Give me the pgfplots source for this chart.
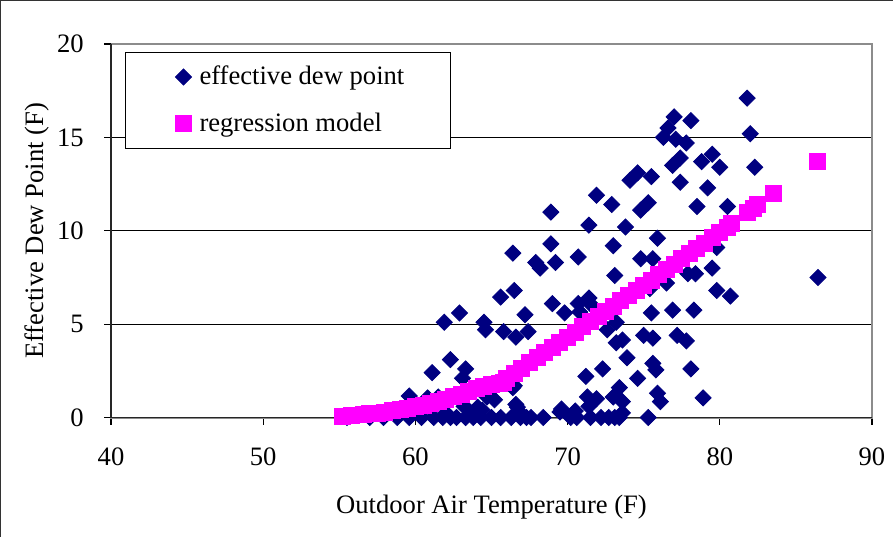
\documentclass[border=0pt]{standalone}
\usepackage{pgfplots}
\pgfplotsset{compat=1.18}
\usepackage{pgfplotstable}
\usepackage{fontspec}
\setmainfont{Liberation Serif}
\definecolor{navyblue}{HTML}{000080}
\definecolor{regmag}{HTML}{FF00FF}

\pgfplotstableread{
x y
81.8 17.1
82.0 15.2
82.3 13.4
77.0 16.1
78.1 15.9
76.6 15.5
76.3 15.0
77.1 14.9
77.8 14.7
77.4 13.9
76.9 13.5
78.8 13.7
79.5 14.1
80.0 13.4
74.6 13.1
74.1 12.7
75.5 12.9
77.4 12.6
79.2 12.3
75.3 11.5
74.8 11.1
78.5 11.3
80.5 11.3
73.8 10.2
75.9 9.6
74.8 8.5
75.6 8.5
79.8 9.1
71.9 11.9
72.9 11.4
68.9 11.0
71.4 10.3
68.9 9.3
66.4 8.8
67.9 8.3
68.2 8.0
69.2 8.3
70.7 8.6
73.0 9.2
65.6 6.45
66.5 6.8
69.0 6.1
70.7 6.1
71.4 6.4
71.6 6.0
73.1 7.6
86.45 7.5
62.9 5.6
61.9 5.1
64.5 5.1
64.6 4.7
62.3 3.1
61.1 2.4
63.3 2.6
63.1 2.1
59.6 1.15
67.2 5.5
69.8 5.6
65.8 4.6
66.6 4.3
67.4 4.6
72.6 4.7
73.2 4.0
72.3 2.6
71.2 2.2
71.3 1.1
71.9 1.0
73.0 1.1
66.5 1.7
79.5 8.0
77.9 7.7
78.4 7.7
79.8 6.8
80.7 6.5
75.5 5.6
76.9 5.75
78.3 5.75
76.5 7.2
75.4 6.9
73.6 4.15
75.0 4.4
75.6 4.25
77.2 4.4
77.8 4.1
73.9 3.2
75.6 2.9
75.8 2.55
78.1 2.6
74.6 2.1
73.4 1.6
75.9 1.3
76.1 0.85
78.9 1.05
73.6 0.85
75.3 0.0
73.6 0.25
70.8 5.65
73.2 5.1
69.5 0.3
55.5 0
57.0 0
57.9 0
58.8 0
59.6 0
60.4 0
61.2 0
61.8 0
62.3 0
62.7 0
63.3 0
63.8 0
64.3 0
65.0 0
65.6 0
66.3 0
66.9 0
67.3 0
67.6 0
68.4 0
70.2 0
70.6 0
71.5 0
72.2 0
72.7 0
73.1 0
73.4 0
60.8 1.05
61.5 1.1
63.2 0.6
63.6 0.3
64.1 0.55
64.4 0.4
64.9 1.45
65.2 0.95
64.7 1.1
66.4 1.6
66.7 0.55
66.9 0.25
66.6 0.7
60.0 0.3
61.0 0.45
62.0 0.25
69.6 0.45
70.5 0.35
71.4 0.6
}\dewdata

\pgfplotstableread{
x y
55.2 0.08
55.8 0.12
56.6 0.18
57.0 0.20
57.5 0.24
58.0 0.29
58.5 0.35
59.0 0.42
59.5 0.49
60.0 0.57
60.5 0.66
61.0 0.76
61.5 0.87
62.0 0.99
62.5 1.11
63.0 1.24
63.5 1.38
64.0 1.53
64.5 1.68
65.0 1.78
65.5 1.82
65.8 1.85
66.0 2.10
66.5 2.38
67.0 2.65
67.5 2.92
68.0 3.20
68.5 3.47
69.0 3.75
69.5 4.02
70.0 4.30
70.5 4.57
71.0 4.85
71.5 5.12
72.0 5.40
72.5 5.68
73.0 5.96
73.5 6.24
74.0 6.52
74.5 6.80
75.0 7.08
75.5 7.36
76.0 7.64
76.5 7.92
77.0 8.20
77.5 8.49
78.0 8.77
78.5 9.05
79.0 9.33
79.5 9.62
80.0 9.90
80.5 10.20
80.8 10.40
81.8 11.00
82.2 11.20
82.5 11.40
83.5 12.00
86.4 13.70
}\regdata

\begin{document}
\begin{tikzpicture}[font=\fontsize{13.3}{16}\selectfont]
\path[use as bounding box] (0,0) rectangle (446.5pt,268.5pt);
\draw[black!80, line width=1.2pt] (0,268.5pt) -- (446.5pt,268.5pt);
\draw[black!80, line width=1pt] (0,0) -- (0,268.5pt);
\begin{axis}[
  at={(55.5pt,59.75pt)}, anchor=south west,
  scale only axis, width=380.5pt, height=186.75pt,
  xmin=40, xmax=90, ymin=0, ymax=20,
  xtick={40,50,...,90}, ytick={0,5,10,15},
  extra y ticks={20}, extra y tick style={ymajorgrids=false},
  xtick pos=left, ytick pos=left,
  tick align=outside, major tick length=3.5pt,
  tick style={black, line width=0.6pt},
  ymajorgrids, grid style={black, line width=0.5pt},
  axis line style={black!45, line width=1pt},
  clip=false,
  /pgf/number format/assume math mode=true,
  xticklabel style={yshift=-8pt},
  yticklabel style={anchor=east, inner sep=0pt, xshift=-10pt},
  xlabel={Outdoor Air Temperature (F)},
  ylabel={Effective Dew Point (F)},
  xlabel style={at={(axis description cs:0.5,-0.2557)}, anchor=base},
  ylabel style={at={(axis description cs:-0.0972,0.5)}, anchor=center},
  legend cell align=left,
  legend style={at={(axis description cs:0.0184,0.9786)}, anchor=north west,
    draw=black, line width=0.5pt, fill=white, inner xsep=0pt, inner ysep=0.5pt,
    row sep=0pt, column sep=0pt, nodes={inner sep=0pt}},
  legend image code/.code={\path[draw=none,fill=none] (-29pt,-11.75pt) rectangle (8pt,11.75pt);
    \draw[#1] plot coordinates {(0pt,0pt)};},
]
\draw[black!85, line width=0.9pt] (rel axis cs:0,1) -- (rel axis cs:0,0) -- (rel axis cs:1,0);
\addplot[only marks, mark=square*, mark size=2.85pt,
  mark options={rotate=45, fill=navyblue, draw=navyblue, line width=0.4pt}]
  table[x=x,y=y] {\dewdata};
\addlegendentry{effective dew point\hspace*{23pt}}
\addplot[only marks, mark=square*, mark size=4pt,
  mark options={fill=regmag, draw=regmag, line width=0.5pt}]
  table[x=x,y=y] {\regdata};
\addlegendentry{regression model}
\end{axis}
\end{tikzpicture}
\end{document}
